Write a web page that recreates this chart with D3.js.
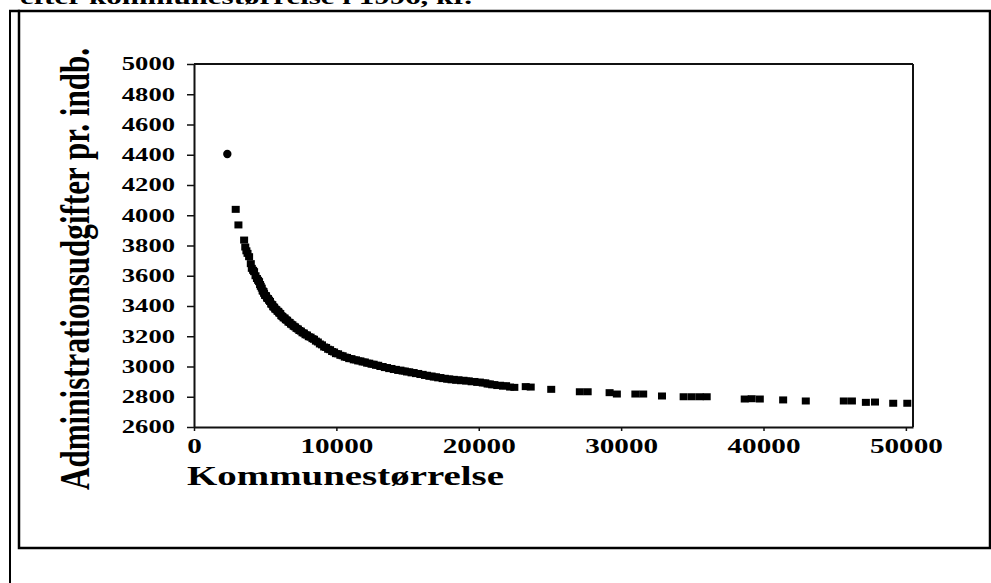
<!DOCTYPE html>
<html>
<head>
<meta charset="utf-8">
<script src="https://cdn.jsdelivr.net/npm/d3@7"></script>
<style>
body { margin: 0; background: #fff; }
svg { display: block; }
text { font-family: "Liberation Serif", "Times New Roman", serif; font-weight: bold; fill: #000; }
</style>
</head>
<body>
<div id="chart"></div>
<script>
// kommunestørrelse (indbyggere) og administrationsudgifter pr. indb. (kr.)
var kommuneSize = [
  2930, 3120, 3520, 3600, 3680, 3760, 3870, 3990, 4060, 4150,
  4220, 4320, 4420, 4500, 4570, 4640, 4690, 4760, 4820, 4880,
  4920, 4990, 5060, 5130, 5200, 5270, 5340, 5420, 5500, 5560,
  5630, 5700, 5780, 5860, 5920, 5980, 6060, 6130, 6210, 6290,
  6370, 6450, 6540, 6630, 6720, 6810, 6910, 7000, 7100, 7200,
  7300, 7400, 7510, 7620, 7720, 7830, 7940, 8060, 8190, 8320,
  8430, 8560, 8700, 8840, 8990, 9140, 9280, 9420, 9560, 9700,
  9840, 9970, 10120, 10280, 10440, 10590, 10750, 10900, 11060, 11220,
  11380, 11530, 11690, 11840, 12000, 12160, 12310, 12470, 12620, 12780,
  12940, 13090, 13250, 13400, 13560, 13710, 13870, 14030, 14180, 14340,
  14500, 14650, 14810, 14960, 15120, 15280, 15430, 15590, 15750, 15900,
  16060, 16220, 16370, 16530, 16690, 16840, 17000, 17150, 17310, 17460,
  17620, 17780, 17930, 18090, 18250, 18410, 18580, 18750, 18930, 19110,
  19300, 19500, 19700, 19890, 20080, 20280, 20460, 20620, 20780, 20940,
  21100, 21300, 21500, 21700, 21920, 22200, 22500, 23300, 23650, 25090,
  27100, 27650, 29190, 29700, 31000, 31550, 32870, 34390, 34960, 35520,
  36010, 38680, 39170, 39740, 41380, 42970, 45640, 46210, 47190, 47830,
  49110, 50100
]
var adminCost = [
  4039, 3936, 3836, 3790, 3765, 3748, 3726, 3680, 3649, 3636,
  3627, 3600, 3582, 3570, 3561, 3542, 3530, 3518, 3500, 3496,
  3484, 3470, 3468, 3452, 3449, 3438, 3430, 3413, 3409, 3395,
  3392, 3380, 3376, 3366, 3364, 3354, 3350, 3336, 3331, 3322,
  3320, 3309, 3306, 3294, 3291, 3280, 3276, 3266, 3262, 3252,
  3248, 3238, 3234, 3223, 3221, 3210, 3208, 3197, 3194, 3184,
  3180, 3168, 3162, 3149, 3143, 3129, 3126, 3114, 3111, 3099,
  3096, 3085, 3084, 3074, 3071, 3062, 3060, 3052, 3052, 3044,
  3044, 3037, 3037, 3030, 3030, 3022, 3022, 3015, 3015, 3008,
  3008, 3000, 3000, 2993, 2993, 2986, 2987, 2980, 2981, 2974,
  2976, 2970, 2970, 2964, 2965, 2958, 2960, 2953, 2954, 2947,
  2948, 2941, 2942, 2935, 2937, 2930, 2932, 2925, 2927, 2920,
  2922, 2916, 2918, 2912, 2915, 2909, 2912, 2906, 2909, 2904,
  2905, 2899, 2901, 2895, 2897, 2891, 2892, 2884, 2885, 2879,
  2880, 2874, 2876, 2870, 2873, 2864, 2862, 2867, 2864, 2849,
  2833, 2833, 2827, 2818, 2818, 2818, 2805, 2800, 2800, 2800,
  2800, 2785, 2787, 2785, 2779, 2772, 2772, 2772, 2763, 2765,
  2757, 2757
]
// the smallest kommune is drawn with its own round marker
var firstSize = [2340]
var firstCost = [4405]

var xTicks = [0, 10000, 20000, 30000, 40000, 50000]
var yTicks = [2600, 2800, 3000, 3200, 3400, 3600, 3800, 4000, 4200, 4400, 4600, 4800, 5000]

var captionText = "efter kommunestørrelse i 1996, kr."
var xTitle = "Kommunestørrelse"
var yTitle = "Administrationsudgifter pr. indb."

var width = 991, height = 583

var svg = d3.select("#chart").append("svg")
    .attr("width", width)
    .attr("height", height)

// table cell around the figure
svg.append("rect")
    .attr("x", 19).attr("y", 11)
    .attr("width", 971).attr("height", 537)
    .attr("fill", "none").attr("stroke", "#000").attr("stroke-width", 2.5)
svg.append("line")
    .attr("x1", 9).attr("x2", 20).attr("y1", 11).attr("y2", 11)
    .attr("stroke", "#000").attr("stroke-width", 2.5)
svg.append("line")
    .attr("x1", 10).attr("x2", 10).attr("y1", 10).attr("y2", height)
    .attr("stroke", "#000").attr("stroke-width", 2)

// caption, cut off at the top of the page like in the scan
svg.append("text")
    .attr("x", 20).attr("y", 4)
    .attr("font-size", 22)
    .attr("textLength", 452).attr("lengthAdjust", "spacingAndGlyphs")
    .text(captionText)

var x = d3.scaleLinear().domain([0, 50500]).range([194, 913])
var y = d3.scaleLinear().domain([2600, 5000]).range([427, 64])

var xAxis = svg.append("g")
    .attr("transform", "translate(0," + y.range()[0] + ")")
    .call(d3.axisBottom(x).tickValues(xTicks).tickSize(4).tickSizeOuter(0).tickPadding(8).tickFormat(d3.format("d")))
xAxis.select(".domain").attr("stroke", "#111").attr("stroke-width", 2)
xAxis.selectAll(".tick line").attr("stroke", "#111").attr("stroke-width", 1.5)
xAxis.selectAll(".tick text")
    .attr("font-size", 20)
    .attr("font-family", null)
    .attr("textLength", function(d) { return String(d).length * 14.6 })
    .attr("lengthAdjust", "spacingAndGlyphs")

var yAxis = svg.append("g")
    .attr("transform", "translate(" + x.range()[0] + ",0)")
    .call(d3.axisLeft(y).tickValues(yTicks).tickSize(7).tickSizeOuter(0).tickPadding(12).tickFormat(d3.format("d")))
yAxis.select(".domain").attr("stroke", "#111").attr("stroke-width", 2)
yAxis.selectAll(".tick line").attr("stroke", "#111").attr("stroke-width", 1.5)
yAxis.selectAll(".tick text")
    .attr("font-size", 18)
    .attr("font-family", null)
    .attr("textLength", function(d) { return String(d).length * 13.3 })
    .attr("lengthAdjust", "spacingAndGlyphs")

// top and right edge of the plot box
svg.append("line")
    .attr("x1", x.range()[0]).attr("x2", x.range()[1])
    .attr("y1", y.range()[1]).attr("y2", y.range()[1])
    .attr("stroke", "#111").attr("stroke-width", 2)
svg.append("line")
    .attr("x1", x.range()[1]).attr("x2", x.range()[1])
    .attr("y1", y.range()[1]).attr("y2", y.range()[0])
    .attr("stroke", "#111").attr("stroke-width", 2)

var points = kommuneSize.map(function(s, i) { return {size: s, cost: adminCost[i]} })

svg.selectAll(".kommune")
    .data(points)
    .enter()
    .append("rect")
    .attr("class", "kommune")
    .attr("x", function(d) { return x(d.size) - 4 })
    .attr("y", function(d) { return y(d.cost) - 3.5 })
    .attr("width", 8)
    .attr("height", 7)
    .attr("fill", "#000")

svg.selectAll(".first")
    .data(firstSize.map(function(s, i) { return {size: s, cost: firstCost[i]} }))
    .enter()
    .append("path")
    .attr("class", "first")
    .attr("d", d3.symbol().type(d3.symbolCircle).size(55))
    .attr("transform", function(d) { return "translate(" + x(d.size) + "," + y(d.cost) + ")" })
    .attr("fill", "#000")

svg.append("text")
    .attr("x", 187).attr("y", 485)
    .attr("font-size", 28)
    .attr("textLength", 317).attr("lengthAdjust", "spacingAndGlyphs")
    .text(xTitle)

svg.append("text")
    .attr("transform", "translate(89,269) rotate(-90) scale(1,1.37)")
    .attr("text-anchor", "middle")
    .attr("font-size", 31)
    .attr("textLength", 442).attr("lengthAdjust", "spacingAndGlyphs")
    .text(yTitle)
</script>
</body>
</html>
